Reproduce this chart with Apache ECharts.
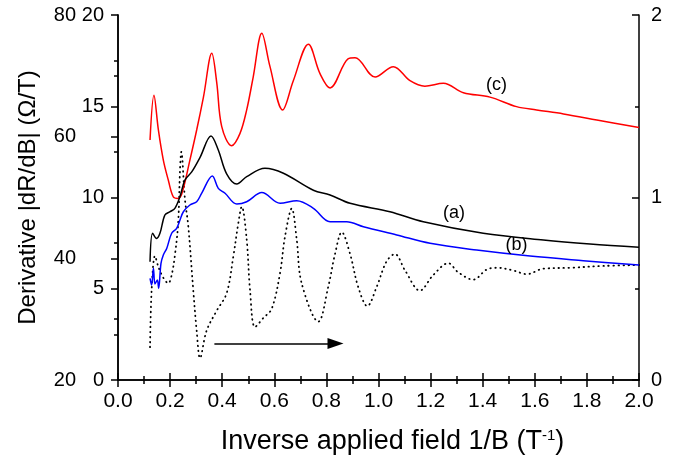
<!DOCTYPE html>
<html>
<head>
<meta charset="utf-8">
<script src="https://cdn.jsdelivr.net/npm/echarts@6/dist/echarts.min.js"></script>
<style>
  html, body { margin: 0; padding: 0; background: #fff; }
  #chart { width: 690px; height: 464px; }
</style>
</head>
<body>
<div id="chart"></div>
<script>
// x = 1/B (T^-1), y = |dR/dB| (Ω/T) on the inner left axis
const curveA = [
  [0.123, 6.48], [0.133, 8.04], [0.148, 7.76], [0.161, 8.04], [0.18, 9.04], [0.2, 9.22],
  [0.219, 9.42], [0.238, 10.05], [0.257, 10.96], [0.283, 11.4], [0.315, 12.2], [0.357, 13.37],
  [0.385, 12.6], [0.417, 11.3], [0.456, 10.74], [0.494, 11.14], [0.564, 11.6], [0.635, 11.33],
  [0.75, 10.4], [0.814, 10.14], [0.891, 9.68], [1.044, 9.22], [1.172, 8.67], [1.402, 8.04],
  [1.633, 7.67], [1.812, 7.45], [2.0, 7.27]
];
const curveB = [
  [0.123, 5.57], [0.129, 5.2], [0.136, 6.12], [0.142, 5.26], [0.151, 5.48], [0.156, 5.02],
  [0.165, 6.39], [0.174, 6.85], [0.187, 7.21], [0.206, 8.04], [0.225, 8.31], [0.238, 8.77],
  [0.251, 9.22], [0.276, 9.59], [0.302, 9.77], [0.321, 10.23], [0.362, 11.18], [0.385, 10.5],
  [0.411, 10.23], [0.456, 9.64], [0.494, 9.77], [0.552, 10.27], [0.622, 9.68], [0.686, 9.82],
  [0.75, 9.41], [0.814, 8.67], [0.878, 8.67], [0.942, 8.4], [1.07, 7.95], [1.198, 7.49],
  [1.377, 7.12], [1.582, 6.79], [1.786, 6.54], [2.0, 6.3]
];
const curveC = [
  [0.123, 13.15], [0.138, 15.6], [0.155, 13.7], [0.174, 12.05], [0.193, 10.96], [0.212, 10.04],
  [0.23, 9.95], [0.245, 10.2], [0.276, 12.05], [0.302, 13.7], [0.328, 15.5], [0.36, 17.9],
  [0.379, 16.3], [0.398, 13.9], [0.436, 12.84], [0.468, 13.5], [0.494, 14.8], [0.519, 16.6],
  [0.552, 19.0], [0.583, 17.2], [0.632, 14.8], [0.673, 16.4], [0.731, 18.4], [0.775, 16.8],
  [0.814, 16.0], [0.883, 17.6], [0.91, 17.66], [0.987, 16.6], [1.057, 17.17], [1.121, 16.4],
  [1.178, 16.1], [1.249, 16.26], [1.326, 15.74], [1.428, 15.5], [1.53, 14.98], [1.607, 14.8],
  [1.71, 14.58], [1.838, 14.25], [2.0, 13.83]
];
// dotted curve, right axis (0 - 2)
const curveDot = [
  [0.123, 0.18], [0.129, 0.49], [0.142, 0.68], [0.155, 0.62], [0.174, 0.56], [0.193, 0.53],
  [0.206, 0.575], [0.219, 0.69], [0.231, 0.86], [0.238, 1.15], [0.243, 1.25], [0.257, 0.99],
  [0.27, 0.84], [0.289, 0.49], [0.302, 0.27], [0.315, 0.12], [0.34, 0.27], [0.379, 0.38],
  [0.417, 0.475], [0.443, 0.68], [0.462, 0.86], [0.475, 0.95], [0.494, 0.77], [0.507, 0.49],
  [0.526, 0.29], [0.558, 0.34], [0.59, 0.39], [0.622, 0.585], [0.641, 0.785], [0.667, 0.94],
  [0.686, 0.77], [0.705, 0.53], [0.769, 0.32], [0.807, 0.51], [0.833, 0.69], [0.859, 0.81],
  [0.891, 0.69], [0.922, 0.51], [0.957, 0.405], [0.993, 0.51], [1.031, 0.65], [1.063, 0.69],
  [1.102, 0.6], [1.159, 0.49], [1.21, 0.575], [1.268, 0.64], [1.306, 0.59], [1.364, 0.55],
  [1.415, 0.605], [1.454, 0.615], [1.518, 0.6], [1.569, 0.58], [1.633, 0.61], [1.735, 0.615],
  [1.863, 0.625], [2.0, 0.63]
];
// curve labels [text, x, y]
const curveLabels = [['(a)', 1.29, 9.13], ['(b)', 1.53, 7.4], ['(c)', 1.453, 16.16]];
// arrow on the right-axis scale
const arrowFrom = [0.37, 0.2];
const arrowTo = [0.835, 0.2];

const chart = echarts.init(document.getElementById('chart'));
const font = 'Liberation Sans, Arial, sans-serif';
const black = '#000';

function labelPoint(l) {
  return {
    coord: [l[1], l[2]],
    symbol: 'circle',
    symbolSize: 0,
    label: { show: true, position: 'inside', formatter: l[0], color: black, fontSize: 18, fontFamily: font }
  };
}

const tickStyle = { color: black, width: 1.5 };

const option = {
  animation: false,
  backgroundColor: '#fff',
  grid: { left: 118, right: 51, top: 15, bottom: 84 },
  xAxis: [
    {
      type: 'value', min: 0, max: 2, interval: 0.2, position: 'bottom',
      name: 'Inverse applied field 1/B (T{sup|-1})',
      nameLocation: 'middle', nameGap: 48,
      nameTextStyle: {
        color: black, fontSize: 27, fontFamily: font, padding: [0, 0, 0, 28],
        rich: { sup: { fontSize: 15, verticalAlign: 'top', padding: [0, 0, 12, 0], color: black, fontFamily: font } }
      },
      axisLine: { lineStyle: tickStyle },
      axisTick: { inside: false, length: 7, lineStyle: tickStyle },
      minorTick: { show: true, splitNumber: 2, length: 4, lineStyle: tickStyle },
      splitLine: { show: false },
      axisLabel: { color: black, fontSize: 21, fontFamily: font, margin: 11, formatter: v => v.toFixed(1) }
    },
    {
      type: 'value', min: 0, max: 2, interval: 0.2, position: 'top',
      axisLine: { lineStyle: tickStyle },
      axisTick: { inside: false, length: 7, lineStyle: tickStyle },
      minorTick: { show: true, splitNumber: 2, length: 4, lineStyle: tickStyle },
      splitLine: { show: false },
      axisLabel: { show: false }
    }
  ],
  yAxis: [
    {
      // inner left scale
      type: 'value', min: 0, max: 20, interval: 5, position: 'left',
      axisLine: { show: true, lineStyle: tickStyle },
      axisTick: { inside: false, length: 7, lineStyle: tickStyle },
      minorTick: { show: true, splitNumber: 2, length: 4, lineStyle: tickStyle },
      splitLine: { show: false },
      axisLabel: { color: black, fontSize: 20, fontFamily: font, margin: 14 }
    },
    {
      // outer left scale
      type: 'value', min: 20, max: 80, interval: 20, position: 'left',
      name: 'Derivative |dR/dB| (Ω/T)', nameLocation: 'middle', nameGap: 78,
      nameTextStyle: { color: black, fontSize: 24, fontFamily: font },
      axisLine: { show: true, lineStyle: tickStyle },
      axisTick: { inside: false, length: 7, lineStyle: tickStyle },
      minorTick: { show: true, splitNumber: 2, length: 4, lineStyle: tickStyle },
      splitLine: { show: false },
      axisLabel: { color: black, fontSize: 20, fontFamily: font, margin: 42 }
    },
    {
      // right scale for dotted curve
      type: 'value', min: 0, max: 2, interval: 1, position: 'right',
      axisLine: { show: true, lineStyle: tickStyle },
      axisTick: { inside: true, length: 7, lineStyle: tickStyle },
      minorTick: { show: true, splitNumber: 2, length: 4, lineStyle: tickStyle },
      splitLine: { show: false },
      axisLabel: { color: black, fontSize: 20, fontFamily: font, margin: 12 }
    }
  ],
  series: [
    {
      name: 'dotted', type: 'line', yAxisIndex: 2, data: curveDot, smooth: 0.35,
      showSymbol: false, lineStyle: { color: black, width: 1.8, type: [0.5, 4.5], cap: 'round' },
      markLine: {
        silent: true, symbol: ['none', 'triangle'], symbolSize: [11, 16],
        lineStyle: { color: black, width: 1.5, type: 'solid', cap: 'butt' },
        label: { show: false },
        data: [[{ coord: arrowFrom }, { coord: arrowTo }]]
      }
    },
    {
      name: 'c', type: 'line', data: curveC, smooth: 0.35, showSymbol: false,
      lineStyle: { color: '#ff0000', width: 1.5 },
      markPoint: { data: [labelPoint(curveLabels[2])] }
    },
    {
      name: 'a', type: 'line', data: curveA, smooth: 0.35, showSymbol: false,
      lineStyle: { color: black, width: 1.5 },
      markPoint: { data: [labelPoint(curveLabels[0])] }
    },
    {
      name: 'b', type: 'line', data: curveB, smooth: 0.35, showSymbol: false,
      lineStyle: { color: '#0000ff', width: 1.5 },
      markPoint: { data: [labelPoint(curveLabels[1])] }
    }
  ]
};
chart.setOption(option);
</script>
</body>
</html>
